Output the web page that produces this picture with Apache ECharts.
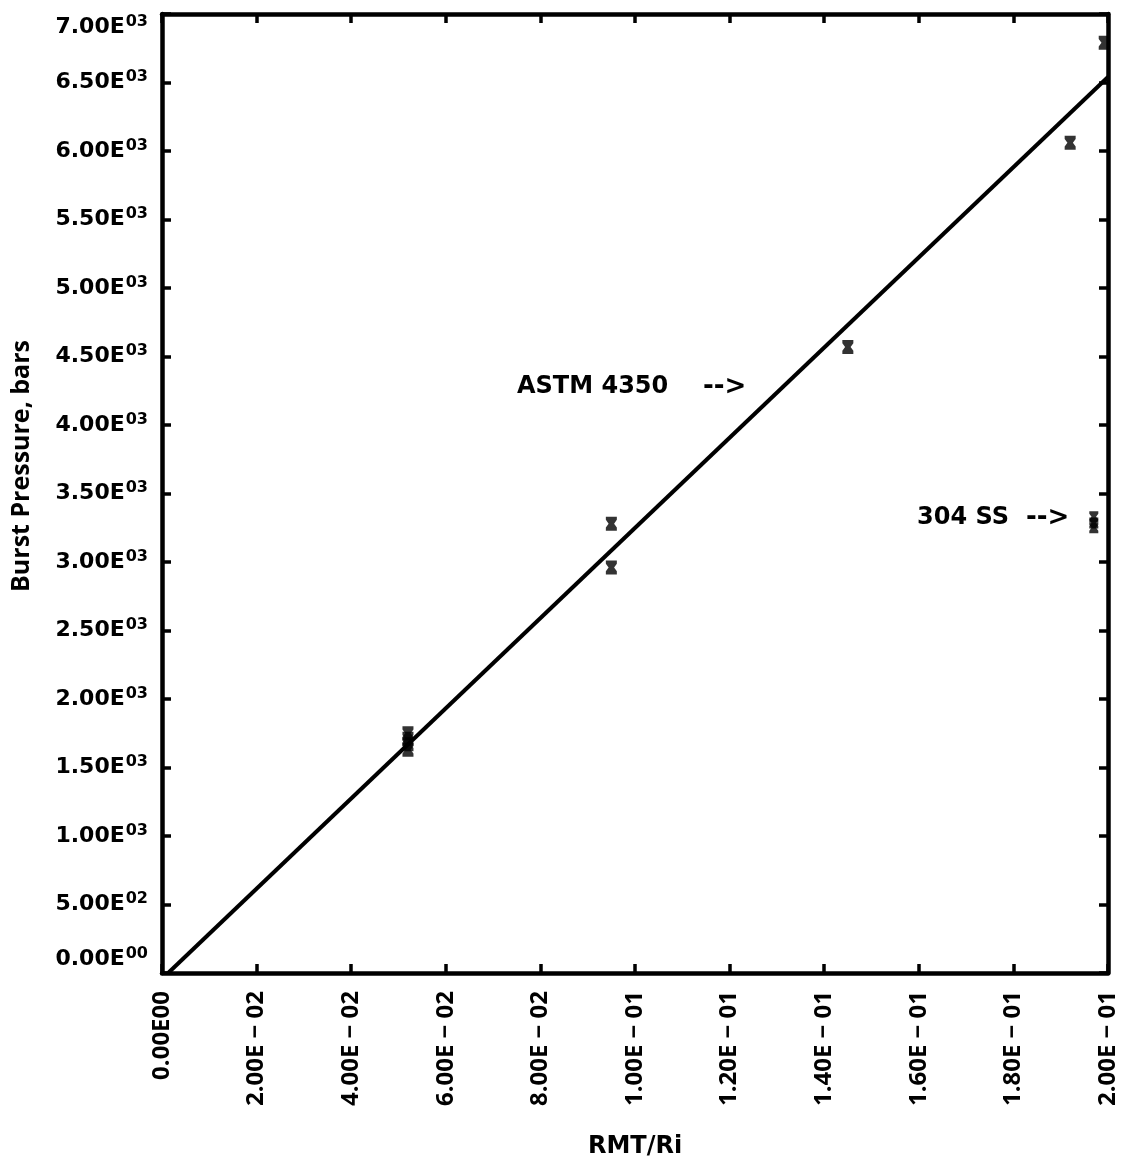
<!DOCTYPE html>
<html>
<head>
<meta charset="utf-8">
<script src="https://cdn.jsdelivr.net/npm/echarts@6/dist/echarts.min.js"></script>
<style>
html,body{margin:0;padding:0;background:#fff;}
#chart{width:1132px;height:1170px;}
</style>
</head>
<body>
<div id="chart"></div>
<script>
// Data
const astmX = [0.052, 0.052, 0.052, 0.052, 0.095, 0.095, 0.145, 0.192, 0.1992];
const astmY = [1750, 1710, 1670, 1630, 3280, 2960, 4570, 6060, 6790];
const ssX = [0.197, 0.197, 0.197];
const ssY = [3330, 3285, 3250];
const fitX = [0.0013, 0.2];
const fitY = [0, 6540];
const xTicks = ['0.00E00', '2.00E − 02', '4.00E − 02', '6.00E − 02', '8.00E − 02', '1.00E − 01', '1.20E − 01', '1.40E − 01', '1.60E − 01', '1.80E − 01', '2.00E − 01'];
const yTicks = ['0.00E00', '5.00E02', '1.00E03', '1.50E03', '2.00E03', '2.50E03', '3.00E03', '3.50E03', '4.00E03', '4.50E03', '5.00E03', '5.50E03', '6.00E03', '6.50E03', '7.00E03'];

const WIDE = '"DejaVu Sans", sans-serif';
const NARROW = '"Open Sans", sans-serif';
const chart = echarts.init(document.getElementById('chart'));
const marker = 'path://M0,0 L10,0 L10,3 L7.5,6.5 L10,10 L10,13 L0,13 L0,10 L2.5,6.5 L0,3 Z';

function yFmt(v) {
  const t = yTicks[Math.round(v / 500)] || '';
  const m = t.match(/^(.*E)(\d\d)$/);
  if (!m) return t;
  return '{m|' + m[1] + '}{s|' + m[2] + '}';
}
function xFmt(v) {
  return xTicks[Math.round(v / 0.02)] || '';
}
function line() { return { show: true, onZero: false, lineStyle: { color: '#000', width: 4.5 } }; }
function tick() { return { show: true, inside: true, length: 9, lineStyle: { color: '#000', width: 3.5 } }; }

chart.setOption({
  animation: false,
  backgroundColor: '#fff',
  grid: { left: 162, right: 24, top: 14, bottom: 197, containLabel: false },
  xAxis: [{
    type: 'value', min: 0, max: 0.2, interval: 0.02, position: 'bottom',
    axisLine: line(), axisTick: tick(), splitLine: { show: false },
    axisLabel: { rotate: 90, margin: 18, formatter: xFmt, color: '#000', fontFamily: NARROW, fontWeight: 'bold', fontSize: 24 },
    name: 'RMT/Ri', nameLocation: 'middle', nameGap: 162,
    nameTextStyle: { color: '#000', fontFamily: WIDE, fontWeight: 'bold', fontSize: 24 }
  }, {
    type: 'value', min: 0, max: 0.2, interval: 0.02, position: 'top',
    axisLine: line(), axisTick: tick(), axisLabel: { show: false }, splitLine: { show: false }
  }],
  yAxis: [{
    type: 'value', min: 0, max: 7000, interval: 500, position: 'left',
    axisLine: line(), axisTick: tick(), splitLine: { show: false },
    axisLabel: {
      margin: 14, formatter: yFmt, color: '#000',
      verticalAlignMinLabel: 'bottom', verticalAlignMaxLabel: 'top',
      rich: {
        m: { fontFamily: WIDE, fontWeight: 'bold', fontSize: 22, color: '#000' },
        s: { fontFamily: WIDE, fontWeight: 'bold', fontSize: 16, color: '#000', padding: [0, 0, 11, 1] }
      }
    },
    name: 'Burst Pressure, bars', nameLocation: 'middle', nameGap: 128, nameRotate: 90,
    nameTextStyle: { color: '#000', fontFamily: NARROW, fontWeight: 'bold', fontSize: 25, padding: [0, 0, 0, 55] }
  }, {
    type: 'value', min: 0, max: 7000, interval: 500, position: 'right',
    axisLine: line(), axisTick: tick(), axisLabel: { show: false }, splitLine: { show: false }
  }],
  series: [{
    type: 'line', data: fitX.map((x, i) => [x, fitY[i]]),
    showSymbol: false, lineStyle: { color: '#000', width: 4 }, z: 2
  }, {
    type: 'scatter', data: astmX.map((x, i) => [x, astmY[i]]),
    symbol: marker, symbolSize: [11, 14], itemStyle: { color: '#000' }, z: 3
  }, {
    type: 'scatter', data: ssX.map((x, i) => [x, ssY[i]]),
    symbol: marker, symbolSize: [9, 11], itemStyle: { color: '#000' }, z: 3
  }],
  graphic: [{
    type: 'text', x: 517, y: 387,
    style: { text: 'ASTM 4350', fill: '#000', font: 'bold 24px ' + WIDE, verticalAlign: 'middle' }
  }, {
    type: 'text', x: 703, y: 387,
    style: { text: '-->', fill: '#000', font: 'bold 26px ' + WIDE, verticalAlign: 'middle' }
  }, {
    type: 'text', x: 917, y: 518,
    style: { text: '304 SS', fill: '#000', font: 'bold 24px ' + WIDE, verticalAlign: 'middle' }
  }, {
    type: 'text', x: 1026, y: 518,
    style: { text: '-->', fill: '#000', font: 'bold 26px ' + WIDE, verticalAlign: 'middle' }
  }]
});
</script>
</body>
</html>
